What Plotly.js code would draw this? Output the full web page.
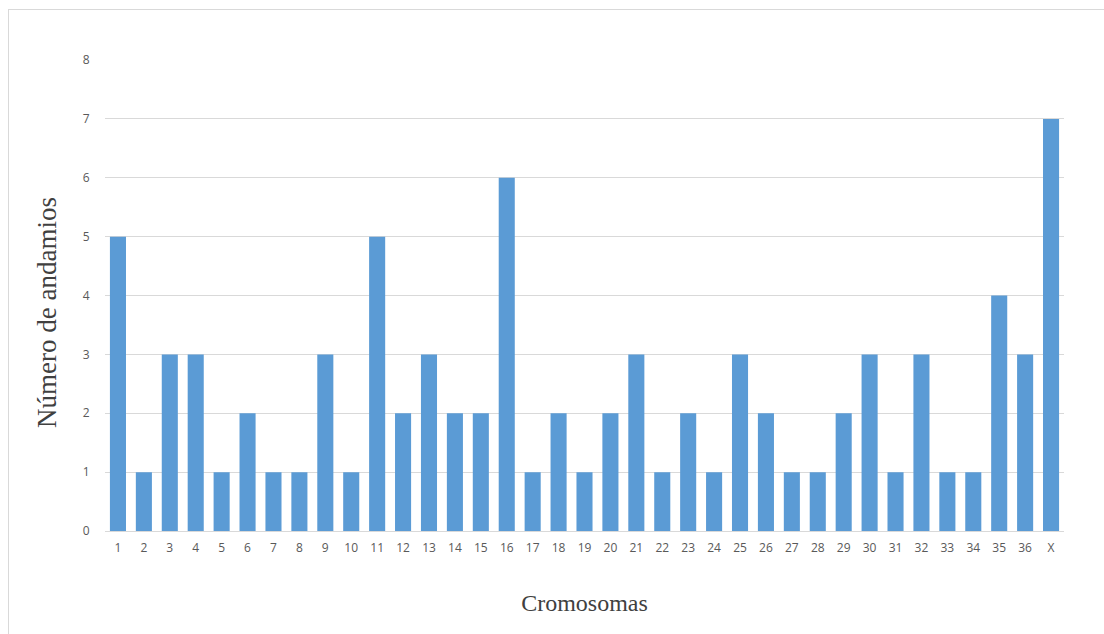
<!DOCTYPE html>
<html>
<head>
<meta charset="utf-8">
<script src="https://cdn.plot.ly/plotly-3.0.1.min.js"></script>
<style>
html,body{margin:0;padding:0;background:#fff;}
#wrap{position:relative;width:1104px;height:634px;}
#chart{width:1104px;height:634px;}
#frame{position:absolute;left:8px;top:9px;width:1110px;height:640px;border-left:1px solid #d9d9d9;border-top:1px solid #d9d9d9;pointer-events:none;}
</style>
</head>
<body>
<div id="wrap"><div id="chart"></div><div id="frame"></div></div>
<script>
const categories = ["1","2","3","4","5","6","7","8","9","10","11","12","13","14","15","16","17","18","19","20","21","22","23","24","25","26","27","28","29","30","31","32","33","34","35","36","X"];
const scaffolds = [5,1,3,3,1,2,1,1,3,1,5,2,3,2,2,6,1,2,1,2,3,1,2,1,3,2,1,1,2,3,1,3,1,1,4,3,7];
const yTicks = [0,1,2,3,4,5,6,7,8];
const xTitle = "Cromosomas";
const yTitle = "Número de andamios";

const trace = {
  type: "bar",
  x: categories,
  y: scaffolds,
  marker: {color: "#5b9bd5"},
  hoverinfo: "x+y"
};

const layout = {
  width: 1104,
  height: 634,
  margin: {l: 105, r: 40, t: 60, b: 103},
  paper_bgcolor: "#ffffff",
  plot_bgcolor: "#ffffff",
  bargap: 0.38,
  showlegend: false,
  font: {family: "Open Sans, Liberation Sans, sans-serif", color: "#595959", size: 12},
  xaxis: {
    type: "category",
    tickvals: categories,
    ticktext: categories,
    tickfont: {size: 12, color: "#595959"},
    ticks: "outside",
    ticklen: 6,
    tickcolor: "rgba(0,0,0,0)",
    showline: true,
    linecolor: "#d9d9d9",
    linewidth: 1,
    showgrid: false,
    zeroline: false,
    automargin: false,
    title: {text: xTitle, font: {family: "Liberation Serif, Times New Roman, serif", size: 24, color: "#404040"}, standoff: 38}
  },
  yaxis: {
    range: [0, 8],
    tickvals: yTicks,
    tickfont: {size: 12, color: "#595959"},
    ticks: "outside",
    ticklen: 12,
    tickcolor: "rgba(0,0,0,0)",
    showgrid: true,
    gridcolor: "#d9d9d9",
    gridwidth: 1,
    zeroline: false,
    showline: false,
    automargin: false
  },
  annotations: [{
    text: yTitle,
    xref: "paper", yref: "paper",
    x: (47 - 105) / 959, y: (531 - 313) / 471,
    xanchor: "center", yanchor: "middle",
    textangle: -90,
    showarrow: false,
    font: {family: "Liberation Serif, Times New Roman, serif", size: 27, color: "#404040"}
  }]
};

Plotly.newPlot("chart", [trace], layout, {displayModeBar: false, staticPlot: true});
</script>
</body>
</html>
